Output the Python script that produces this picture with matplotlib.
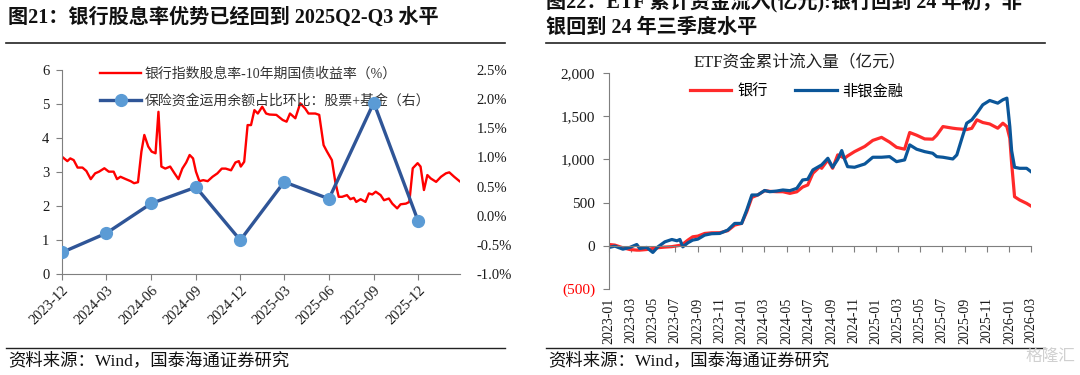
import matplotlib
matplotlib.use('Agg')
import matplotlib.pyplot as plt
import matplotlib.dates as mdates
import pandas as pd
from matplotlib.ticker import FixedLocator, FuncFormatter

plt.rcParams['font.family'] = ['Liberation Serif', 'Noto Sans CJK SC']
plt.rcParams['axes.unicode_minus'] = False

# ---- 图21 data ----
# 银行指数股息率-10年期国债收益率 (%)
div_dates = ['2023-12-01', '2023-12-12', '2023-12-18', '2023-12-25', '2024-01-02', '2024-01-12',
             '2024-01-20', '2024-01-29', '2024-02-07', '2024-02-15', '2024-02-26', '2024-03-06',
             '2024-03-16', '2024-03-23', '2024-03-30', '2024-04-10', '2024-04-20', '2024-04-27',
             '2024-05-05', '2024-05-12', '2024-05-18', '2024-05-26', '2024-06-02', '2024-06-10',
             '2024-06-16', '2024-06-22', '2024-06-30', '2024-07-10', '2024-07-19', '2024-07-27',
             '2024-08-04', '2024-08-12', '2024-08-19', '2024-08-26', '2024-09-01', '2024-09-08',
             '2024-09-16', '2024-09-25', '2024-10-05', '2024-10-15', '2024-10-24', '2024-11-01',
             '2024-11-12', '2024-11-21', '2024-11-28', '2024-12-02', '2024-12-09', '2024-12-16',
             '2024-12-23', '2024-12-30', '2025-01-06', '2025-01-15', '2025-01-23', '2025-01-30',
             '2025-02-13', '2025-02-26', '2025-03-06', '2025-03-13', '2025-03-24', '2025-04-03',
             '2025-04-13', '2025-04-20', '2025-05-04', '2025-05-12', '2025-05-21', '2025-05-28',
             '2025-06-07', '2025-06-14', '2025-06-21', '2025-06-28', '2025-07-08', '2025-07-15',
             '2025-07-22', '2025-07-27', '2025-08-05', '2025-08-15', '2025-08-22', '2025-08-29',
             '2025-09-05', '2025-09-15', '2025-09-22', '2025-10-02', '2025-10-09', '2025-10-19',
             '2025-10-26', '2025-11-06', '2025-11-13', '2025-11-20', '2025-11-30', '2025-12-06',
             '2025-12-13', '2025-12-20', '2025-12-27', '2026-01-07', '2026-01-17', '2026-01-27',
             '2026-02-03', '2026-02-13', '2026-02-24']
div_spread = [3.45, 3.32, 3.40, 3.35, 3.13, 3.13, 3.03, 2.79, 2.96, 3.01, 3.11, 3.01,
              3.01, 2.79, 2.86, 2.79, 2.73, 2.67, 2.70, 3.60, 4.09, 3.75, 3.60, 3.55,
              4.77, 3.16, 3.10, 3.16, 2.96, 2.79, 3.10, 3.28, 3.50, 3.40, 3.01, 2.73,
              2.76, 2.73, 2.86, 2.96, 3.10, 3.10, 3.05, 3.28, 3.32, 3.16, 3.30, 4.38,
              4.38, 4.82, 4.72, 4.92, 4.72, 4.69, 4.68, 4.53, 4.48, 4.72, 4.58, 5.02,
              4.87, 4.72, 4.72, 4.68, 3.79, 3.60, 3.35, 2.71, 2.27, 2.27, 2.32, 2.20,
              2.24, 2.12, 2.20, 2.12, 2.37, 2.34, 2.42, 2.32, 2.17, 2.22, 2.07, 1.93,
              2.05, 2.07, 2.12, 3.11, 3.26, 3.16, 2.47, 2.91, 2.81, 2.71, 2.86, 2.96,
              2.99, 2.86, 2.73]

# 保险资金运用余额占比环比：股票+基金 (%, 右轴)
ins_quarters = ['2023-12', '2024-03', '2024-06', '2024-09', '2024-12',
                '2025-03', '2025-06', '2025-09', '2025-12']
ins_change = [-0.63, -0.30, 0.21, 0.49, -0.42, 0.58, 0.29, 1.94, -0.09]

# ---- 图22 data: ETF资金累计流入量（亿元） ----
etf_dates = ['2023-01-01', '2023-01-17', '2023-02-08', '2023-02-27', '2023-03-18', '2023-03-26',
             '2023-04-14', '2023-05-01', '2023-05-15', '2023-06-03', '2023-06-22', '2023-07-06',
             '2023-07-14', '2023-07-22', '2023-08-05', '2023-08-18', '2023-09-01', '2023-09-20',
             '2023-10-09', '2023-10-31', '2023-11-22', '2023-12-11', '2023-12-30', '2024-01-13',
             '2024-01-27', '2024-02-12', '2024-03-02', '2024-03-16', '2024-04-04', '2024-04-21',
             '2024-05-10', '2024-05-29', '2024-06-14', '2024-06-28', '2024-07-12', '2024-07-31',
             '2024-08-05', '2024-08-22', '2024-09-04', '2024-09-18', '2024-09-29', '2024-10-07',
             '2024-10-15', '2024-11-03', '2024-12-01', '2024-12-23', '2025-01-16', '2025-02-07',
             '2025-02-26', '2025-03-20', '2025-04-03', '2025-04-22', '2025-05-14', '2025-06-05',
             '2025-06-16', '2025-07-03', '2025-07-30', '2025-08-10', '2025-08-24', '2025-09-06',
             '2025-09-20', '2025-10-04', '2025-10-20', '2025-11-08', '2025-11-30', '2025-12-14',
             '2025-12-25', '2026-01-02', '2026-01-07', '2026-01-15', '2026-01-29', '2026-02-17',
             '2026-03-01']
bank_flow = [15, 8, -23, -43, -50, -50, -43, -31, -22, -15, -10, 0,
             5, 19, 66, 104, 112, 143, 150, 151, 175, 240, 259, 394,
             560, 588, 638, 630, 626, 626, 607, 625, 680, 704, 839, 916,
             897, 994, 897, 1052, 1030, 1013, 1040, 1090, 1150, 1220, 1255, 1200,
             1140, 1118, 1311, 1280, 1237, 1234, 1280, 1380, 1361, 1355, 1350, 1345,
             1360, 1458, 1427, 1410, 1361, 1419, 1380, 1245, 955, 568, 530, 491,
             460]
nonbank_flow = [-19, -4, -39, -19, 15, -31, -19, -77, -12, 46, 73, 58,
                73, -12, 35, 66, 77, 124, 140, 143, 182, 259, 259, 414,
                588, 588, 640, 626, 634, 646, 638, 665, 762, 770, 878, 924,
                936, 1013, 909, 1000, 1102, 1000, 916, 909, 947, 1025, 1025, 1032,
                974, 994, 1168, 1118, 1090, 1071, 1032, 1025, 1005, 1052, 1245, 1419,
                1458, 1535, 1632, 1682, 1651, 1690, 1709, 1380, 1100, 909, 897, 897,
                858]

W, H = 1080, 375
fig = plt.figure(figsize=(W / 100, H / 100), dpi=100)


def box(x0, y0, x1, y1):
    # pixel box (top-left origin) -> figure fraction
    return [x0 / W, 1 - y1 / H, (x1 - x0) / W, (y1 - y0) / H]


def dnum(s):
    return mdates.date2num(pd.to_datetime(s))


grey = '#7f7f7f'
txt = '#1a1a1a'

# ================= left chart =================
fig.text(8 / W, 1 - 18 / H, '图21：银行股息率优势已经回到 2025Q2-Q3 水平',
         fontsize=14.5, fontweight='bold', va='center', ha='left', color='#111111')
fig.add_artist(plt.Line2D([6 / W, 505 / W], [1 - 43 / H] * 2, color='#222222', lw=1.2))

ax1 = fig.add_axes(box(62, 70, 460, 274))
l1, = ax1.plot(dnum(div_dates), div_spread, color='#FF0000', lw=1.7,
               label='银行指数股息率-10年期国债收益率（%）')
ax1.set_ylim(0, 6)
ax1.set_xlim(dnum('2023-12-01'), dnum('2026-02-25'))
ax1.set_yticks(range(0, 7))
qticks = dnum([q + '-01' for q in ins_quarters])
ax1.xaxis.set_major_locator(FixedLocator(qticks))
ax1.set_xticklabels(ins_quarters, rotation=45, ha='right', rotation_mode='anchor')
ax1.tick_params(axis='x', length=4, color=grey, labelsize=10.5, labelcolor=txt, pad=3)
ax1.tick_params(axis='y', length=4, color=grey, labelsize=10.5, labelcolor=txt, pad=5)
for s in ['top', 'right']:
    ax1.spines[s].set_visible(False)
for s in ['left', 'bottom']:
    ax1.spines[s].set_color(grey)

ax1b = ax1.twinx()
l2, = ax1b.plot(dnum([q + '-01' for q in ins_quarters]), ins_change, color='#2F5597', lw=2.4,
                marker='o', ms=8.5, mfc='#5B9BD5', mec='#5B9BD5',
                label='保险资金运用余额占比环比：股票+基金（右）')
ax1b.set_ylim(-1.0, 2.5)
ax1b.set_yticks([-1.0, -0.5, 0, 0.5, 1.0, 1.5, 2.0, 2.5])
ax1b.yaxis.set_major_formatter(FuncFormatter(lambda v, p: f'{v:.1f}%'))
ax1b.tick_params(axis='y', length=0, labelsize=10.5, labelcolor=txt, pad=12)
for s in ax1b.spines.values():
    s.set_visible(False)
leg = ax1b.legend(handles=[l1, l2], loc='upper left', bbox_to_anchor=(0.065, 1.075),
                  frameon=False, fontsize=10, handlelength=2.9, labelspacing=0.95,
                  handletextpad=0.3)
leg.set_zorder(0)
for t in leg.get_texts():
    t.set_color('#333333')

fig.add_artist(plt.Line2D([6 / W, 505 / W], [1 - 348 / H] * 2, color='#222222', lw=1.0))
fig.text(8 / W, 1 - 361 / H, '资料来源：Wind，国泰海通证券研究', fontsize=12.5,
         va='center', ha='left', color='#111111')

# ================= right chart =================
fig.text(546 / W, 1 - 2 / H, '图22：ETF 累计资金流入(亿元):银行回到 24 年初，非',
         fontsize=14.5, fontweight='bold', va='center', ha='left', color='#111111')
fig.text(546 / W, 1 - 28 / H, '银回到 24 年三季度水平',
         fontsize=14.5, fontweight='bold', va='center', ha='left', color='#111111')
fig.add_artist(plt.Line2D([546 / W, 1045 / W], [1 - 43 / H] * 2, color='#222222', lw=1.2))

ax2 = fig.add_axes(box(609, 73, 1031, 289))
ex = dnum(etf_dates)
b1, = ax2.plot(ex, bank_flow, color='#FF2A2A', lw=2.3, label='银行')
b2, = ax2.plot(ex, nonbank_flow, color='#0B5699', lw=2.3, label='非银金融')
ax2.set_ylim(-500, 2000)
ax2.set_xlim(dnum('2023-01-01'), dnum('2026-03-01'))
ax2.set_yticks(range(-500, 2001, 500))
ax2.yaxis.set_major_formatter(FuncFormatter(
    lambda v, p: f'({abs(int(v)):,})' if v < 0 else f'{int(v):,}'))
ax2.tick_params(axis='y', length=4, color=grey, labelsize=11, labelcolor=txt, pad=6)
for lab in ax2.get_yticklabels():
    if lab.get_text().startswith('('):
        lab.set_color('#FF0000')

month_labels = pd.date_range('2023-01-01', '2026-03-01', freq='2MS')
mticks = mdates.date2num(month_labels)
ax2.xaxis.set_major_locator(FixedLocator(mticks))
ax2.tick_params(axis='x', length=4, color=grey, labelbottom=False)
ax2.spines['bottom'].set_position(('data', 0))
for s in ['top', 'right']:
    ax2.spines[s].set_visible(False)
for s in ['left', 'bottom']:
    ax2.spines[s].set_color(grey)

sec = ax2.secondary_xaxis('bottom')
sec.set_xticks(mticks)
sec.set_xticklabels([d.strftime('%Y-%m') for d in month_labels], rotation=90)
sec.tick_params(length=0, labelsize=10, labelcolor=txt, pad=6)
sec.spines['bottom'].set_visible(False)

ax2.legend(handles=[b1, b2], loc='center', bbox_to_anchor=(0.445, 0.917), ncol=2,
           frameon=False, fontsize=11, handlelength=2.7, columnspacing=1.8,
           handletextpad=0.4)
fig.text(800 / W, 1 - 62 / H, 'ETF资金累计流入量（亿元）', fontsize=12,
         ha='center', va='center', color='#222222')

fig.add_artist(plt.Line2D([546 / W, 1045 / W], [1 - 348 / H] * 2, color='#222222', lw=1.0))
fig.text(548 / W, 1 - 361 / H, '资料来源：Wind，国泰海通证券研究', fontsize=12.5,
         va='center', ha='left', color='#111111')
fig.text(1075 / W, 1 - 357 / H, '格隆汇', fontsize=12, ha='right', va='center',
         color='#d0d0d0')

fig.savefig('out.png', dpi=100)
